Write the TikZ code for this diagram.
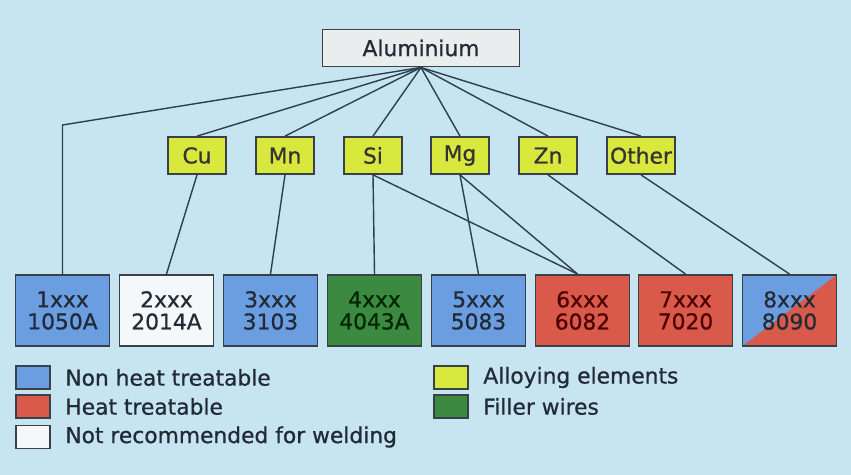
\documentclass[tikz,border=0pt]{standalone}
\usepackage{fontspec}
\setmainfont{DejaVu Sans}
\newfontfamily\labelfont{DejaVu Sans}[FakeBold=0.7]
\usetikzlibrary{positioning, calc}

\definecolor{bgblue}{HTML}{C6E5F1}
\definecolor{boxline}{HTML}{3A4048}
\definecolor{linegray}{HTML}{2E3E4C}
\definecolor{rootgray}{HTML}{E9EDEE}
\definecolor{nonheat}{HTML}{6A9EE0}
\definecolor{heatred}{HTML}{D9594A}
\definecolor{fillgreen}{HTML}{3C8A42}
\definecolor{elemyellow}{HTML}{D9E83C}
\definecolor{nowhite}{HTML}{F4F8F8}
\definecolor{textdark}{HTML}{222A36}

\begin{document}
\begin{tikzpicture}[
    x=0.02cm, y=-0.02cm,
    font=\labelfont\fontsize{12.4}{12.6}\selectfont,
    root/.style={draw=boxline, fill=rootgray, line width=1.1pt, minimum width=3.94cm, minimum height=0.74cm, inner sep=0pt, text=textdark},
    element/.style={draw=boxline, fill=elemyellow, line width=1pt, minimum width=1.16cm, minimum height=0.74cm, inner sep=0pt, text=black!80},
    series/.style={draw=boxline, line width=1.1pt, minimum width=1.88cm, minimum height=1.42cm, inner sep=0pt, align=center},
    link/.style={draw=linegray, line width=0.8pt},
    swatch/.style={draw=boxline, line width=1pt, minimum width=0.68cm, minimum height=0.46cm, inner sep=0pt},
    legend/.style={anchor=west, inner sep=0pt, text=textdark}
]

% Background
\fill[bgblue] (0,0) rectangle (851,475);
\useasboundingbox (0,0) rectangle (851,475);

% Root
\node[root] (al) at (421,48) {Aluminium};

% Alloying elements
\node[element] (cu) at (197,155.5) {Cu};
\node[element] (mn) at (285,155.5) {Mn};
\node[element] (si) at (373,155.5) {Si};
\node[element] (mg) at (460,155.5) {Mg};
\node[element] (zn) at (548,155.5) {Zn};
\node[element, minimum width=1.36cm] (other) at (641,155.5) {Other};

% Alloy series
\node[series, fill=nonheat, text=textdark] (s1) at (62.5,310.5) {1xxx\\1050A};
\node[series, fill=nowhite, text=textdark] (s2) at (166.5,310.5) {2xxx\\2014A};
\node[series, fill=nonheat, text=textdark] (s3) at (270.5,310.5) {3xxx\\3103};
\node[series, fill=fillgreen, text=black!85!green] (s4) at (374.5,310.5) {4xxx\\4043A};
\node[series, fill=nonheat, text=textdark] (s5) at (478.5,310.5) {5xxx\\5083};
\node[series, fill=heatred, text=black!70!red] (s6) at (582.5,310.5) {6xxx\\6082};
\node[series, fill=heatred, text=black!70!red] (s7) at (685.5,310.5) {7xxx\\7020};
\node[series, fill=nonheat, text=textdark,
      path picture={\fill[heatred] (path picture bounding box.south west) -- (path picture bounding box.south east) -- (path picture bounding box.north east) -- cycle;}] (s8) at (789.5,310.5) {8xxx\\8090};

% Links from root
\coordinate (bend) at (62.5,125);
\draw[link] (al.south) -- (bend) -- (s1.north);
\foreach \e in {cu, mn, si, mg, zn, other}
  \draw[link] (al.south) -- (\e.north);

% Links to series
\draw[link] (cu.south) -- (s2.north);
\draw[link] (mn.south) -- (s3.north);
\draw[link] (si.south) -- (s4.north);
\draw[link] (si.south) -- ([xshift=-0.1cm]s6.north);
\draw[link] (mg.south) -- (s5.north);
\draw[link] (mg.south) -- ([xshift=-0.1cm]s6.north);
\draw[link] (zn.south) -- (s7.north);
\draw[link] (other.south) -- (s8.north);

% Legend
\node[swatch, fill=nonheat] (k1) at (33,377.5) {};
\node[swatch, fill=heatred] (k2) at (33,406.5) {};
\node[swatch, fill=nowhite] (k3) at (33,437) {};
\node[legend] at (65,377.5) {Non heat treatable};
\node[legend] at (65,406.5) {Heat treatable};
\node[legend] at (65,437) {Not recommended for welding};
\node[swatch, fill=elemyellow] (k4) at (451,377.5) {};
\node[swatch, fill=fillgreen] (k5) at (451,406.5) {};
\node[legend] at (483,377.5) {Alloying elements};
\node[legend] at (483,406.5) {Filler wires};

\end{tikzpicture}
\end{document}
